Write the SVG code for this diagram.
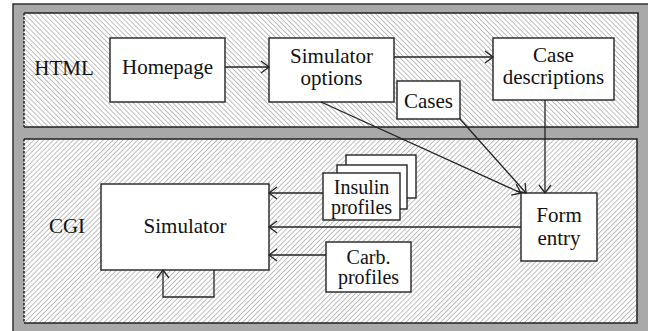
<svg xmlns="http://www.w3.org/2000/svg" width="648" height="331" viewBox="0 0 648 331">
  <defs>
    <pattern id="hatchA" patternUnits="userSpaceOnUse" width="3.5" height="3.5" patternTransform="rotate(-45)">
      <rect width="3.5" height="3.5" fill="#ffffff"/>
      <line x1="0" y1="0" x2="0" y2="3.5" stroke="#8a8a8a" stroke-width="1.1"/>
    </pattern>
    <pattern id="hatchB" patternUnits="userSpaceOnUse" width="3.5" height="3.5" patternTransform="rotate(45)">
      <rect width="3.5" height="3.5" fill="#ffffff"/>
      <line x1="0" y1="0" x2="0" y2="3.5" stroke="#8a8a8a" stroke-width="1.1"/>
    </pattern>
    <marker id="arr" markerUnits="userSpaceOnUse" markerWidth="12" markerHeight="14" refX="9" refY="7" orient="auto">
      <path d="M1,1 L9,7 L1,13" fill="none" stroke="#222" stroke-width="1.3"/>
    </marker>
  </defs>
  <style>
    .box { fill: #ffffff; stroke: #222; stroke-width: 1.4; }
    .edge { fill: none; stroke: #222; stroke-width: 1.3; }
    .pb { fill: none; stroke: #222; stroke-width: 1.5; }
    .pd { fill: none; stroke: #222; stroke-width: 1.5; stroke-dasharray: 2.5 1.5; }
    .t { font-family: 'Liberation Serif', 'Times New Roman', serif; font-size: 21px; fill: #111; text-anchor: middle; }
    .s { font-size: 20px; }
  </style>

  <rect x="13" y="4" width="645" height="340" fill="#a9a9a9" stroke="#333" stroke-width="1.5"/>

  <g id="layer-html">
    <rect x="24" y="13" width="614" height="114" fill="url(#hatchA)"/>
    <path class="pb" d="M24,13 H638 V127 H24"/>
    <path class="pd" d="M24,13 V127"/>
    <text class="t" x="64" y="75">HTML</text>
  </g>

  <g id="layer-cgi">
    <rect x="24" y="139" width="613" height="184" fill="url(#hatchB)"/>
    <path class="pb" d="M24,139 H637 V323 H24"/>
    <path class="pd" d="M24,139 V323"/>
    <text class="t" x="67" y="233">CGI</text>
  </g>

  <g id="homepage">
    <rect class="box" x="110" y="38" width="115" height="64"/>
    <text class="t" x="167.5" y="74">Homepage</text>
  </g>

  <g id="simulator-options">
    <rect class="box" x="269" y="38" width="125" height="64"/>
    <text class="t" x="331.5" y="63">Simulator</text>
    <text class="t" x="331.5" y="85">options</text>
  </g>

  <g id="case-descriptions">
    <rect class="box" x="493" y="38" width="121" height="62"/>
    <text class="t" x="553.5" y="62">Case</text>
    <text class="t" x="553.5" y="84">descriptions</text>
  </g>

  <g id="cases">
    <rect class="box" x="397" y="81" width="63" height="38"/>
    <text class="t" x="428.5" y="108">Cases</text>
  </g>

  <g id="simulator">
    <rect class="box" x="101" y="184" width="168" height="86"/>
    <text class="t" x="185" y="233">Simulator</text>
  </g>

  <g id="insulin-profiles">
    <rect class="box" x="346" y="155" width="70" height="43"/>
    <rect class="box" x="337" y="165" width="70" height="44"/>
    <rect class="box" x="323" y="173" width="77" height="47"/>
    <text class="t s" x="361.5" y="193.5">Insulin</text>
    <text class="t s" x="361.5" y="213.5">profiles</text>
  </g>

  <g id="carb-profiles">
    <rect class="box" x="326" y="242" width="85" height="50"/>
    <text class="t s" x="368.5" y="263.5">Carb.</text>
    <text class="t s" x="368.5" y="283.5">profiles</text>
  </g>

  <g id="form-entry">
    <rect class="box" x="521" y="193" width="76" height="68"/>
    <text class="t" x="559" y="222">Form</text>
    <text class="t" x="559" y="245">entry</text>
  </g>

  <g id="connectors">
    <path class="edge" d="M225,67 H269" marker-end="url(#arr)"/>
    <path class="edge" d="M394,57 H493" marker-end="url(#arr)"/>
    <path class="edge" d="M321,102 L521,193" marker-end="url(#arr)"/>
    <path class="edge" d="M460,119 L526,193" marker-end="url(#arr)"/>
    <path class="edge" d="M545,100 V193" marker-end="url(#arr)"/>
    <path class="edge" d="M323,193 H269" marker-end="url(#arr)"/>
    <path class="edge" d="M521,227 H269" marker-end="url(#arr)"/>
    <path class="edge" d="M326,255 H269" marker-end="url(#arr)"/>
    <path class="edge" d="M214,270 V297 H163 V270" marker-end="url(#arr)"/>
  </g>
</svg>
